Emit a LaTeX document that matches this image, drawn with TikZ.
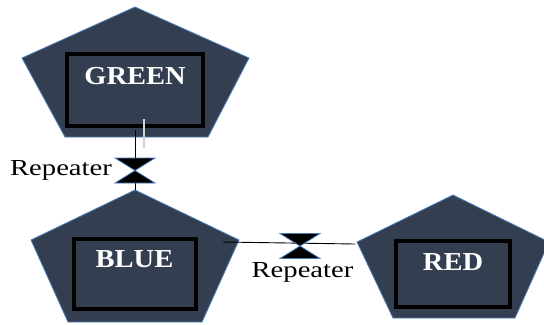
\documentclass[tikz,border=0pt]{standalone}
\usepackage{graphicx}
\usepackage{fontspec}
\setmainfont{Liberation Serif}
\usetikzlibrary{calc}
\definecolor{slate}{HTML}{333F50}
\definecolor{edgeblue}{HTML}{4A7EBB}
\begin{document}
\begin{tikzpicture}[x=1bp,y=-1bp,
  penta/.style={fill=slate,draw=edgeblue,line width=0.8bp,line join=miter},
  box/.style={draw=black,line width=4bp,fill=slate,inner sep=0pt,outer sep=0pt},
  boxtext/.style={text=white,font=\fontsize{26}{30}\selectfont\bfseries,inner sep=0pt,anchor=base},
  reptext/.style={text=black,font=\fontsize{23}{27}\selectfont,inner sep=0pt,anchor=base},
  bowtie/.style={minimum width=40bp,minimum height=25bp,inner sep=0pt,outer sep=0pt},
  tie/.style={fill=black,draw=edgeblue,line width=0.8bp,line join=miter},
  wire/.style={draw=black,line width=0.9bp},
  stub/.style={draw=black!75,line width=0.6bp,double=gray!35,double distance=1.2bp}]
\useasboundingbox (0,0) rectangle (544,324);
% pentagon corners
\coordinate (gA) at (135,7);   \coordinate (gL) at (22,58);   \coordinate (gR) at (249,58);
\coordinate (gBL) at (65,137); \coordinate (gBR) at (208,137);
\coordinate (bA) at (135,190); \coordinate (bL) at (31,240);  \coordinate (bR) at (239,240);
\coordinate (bBL) at (68,322); \coordinate (bBR) at (202,322);
\coordinate (rA) at (453,195); \coordinate (rL) at (357,242); \coordinate (rR) at (549,242);
\coordinate (rBL) at (393,318);\coordinate (rBR) at (515,318);
\draw[penta] (gA) -- (gR) -- (gBR) -- (gBL) -- (gL) -- cycle;
\draw[penta] (bA) -- (bR) -- (bBR) -- (bBL) -- (bL) -- cycle;
\draw[penta] (rA) -- (rR) -- (rBR) -- (rBL) -- (rL) -- cycle;
% inner boxes
\node[box,minimum width=136bp,minimum height=72bp] (gbox) at (135,90) {};
\node[box,minimum width=122bp,minimum height=70bp] (bbox) at (135,274) {};
\node[box,minimum width=114bp,minimum height=66bp] (rbox) at (453,274) {};
\node[boxtext] (gtext) at (135,84) {\scalebox{1.1}[1]{GREEN}};
\node[boxtext] (btext) at (134.5,267) {\scalebox{1.1}[1]{BLUE}};
\node[boxtext] (rtext) at (453,270) {\scalebox{1.1}[1]{RED}};
% repeaters
\node[bowtie] (rep1) at (135,170.5) {};
\node[bowtie] (rep2) at (300,246) {};
\coordinate (g1) at ($(gbox.south)+(0,4)$);
\coordinate (stubT) at (144,119);
\coordinate (stubB) at (144,148);
\coordinate (linkL) at (223,242);
\coordinate (linkR) at (355,244);
\draw[wire] (g1) -- (rep1.north);
\draw[wire] (rep1.south) -- (bA);
\draw[stub] (stubT) -- (stubB);
\draw[wire] (linkL) -- (linkR);
\draw[tie] (rep1.north west) -- (rep1.north east) -- (rep1.south west) -- (rep1.south east) -- cycle;
\draw[tie] (rep2.north west) -- (rep2.north east) -- (rep2.south west) -- (rep2.south east) -- cycle;
\node[reptext] (lab1) at (61,175) {\scalebox{1.25}[1]{Repeater}};
\node[reptext] (lab2) at (302.5,277) {\scalebox{1.25}[1]{Repeater}};
\end{tikzpicture}
\end{document}
